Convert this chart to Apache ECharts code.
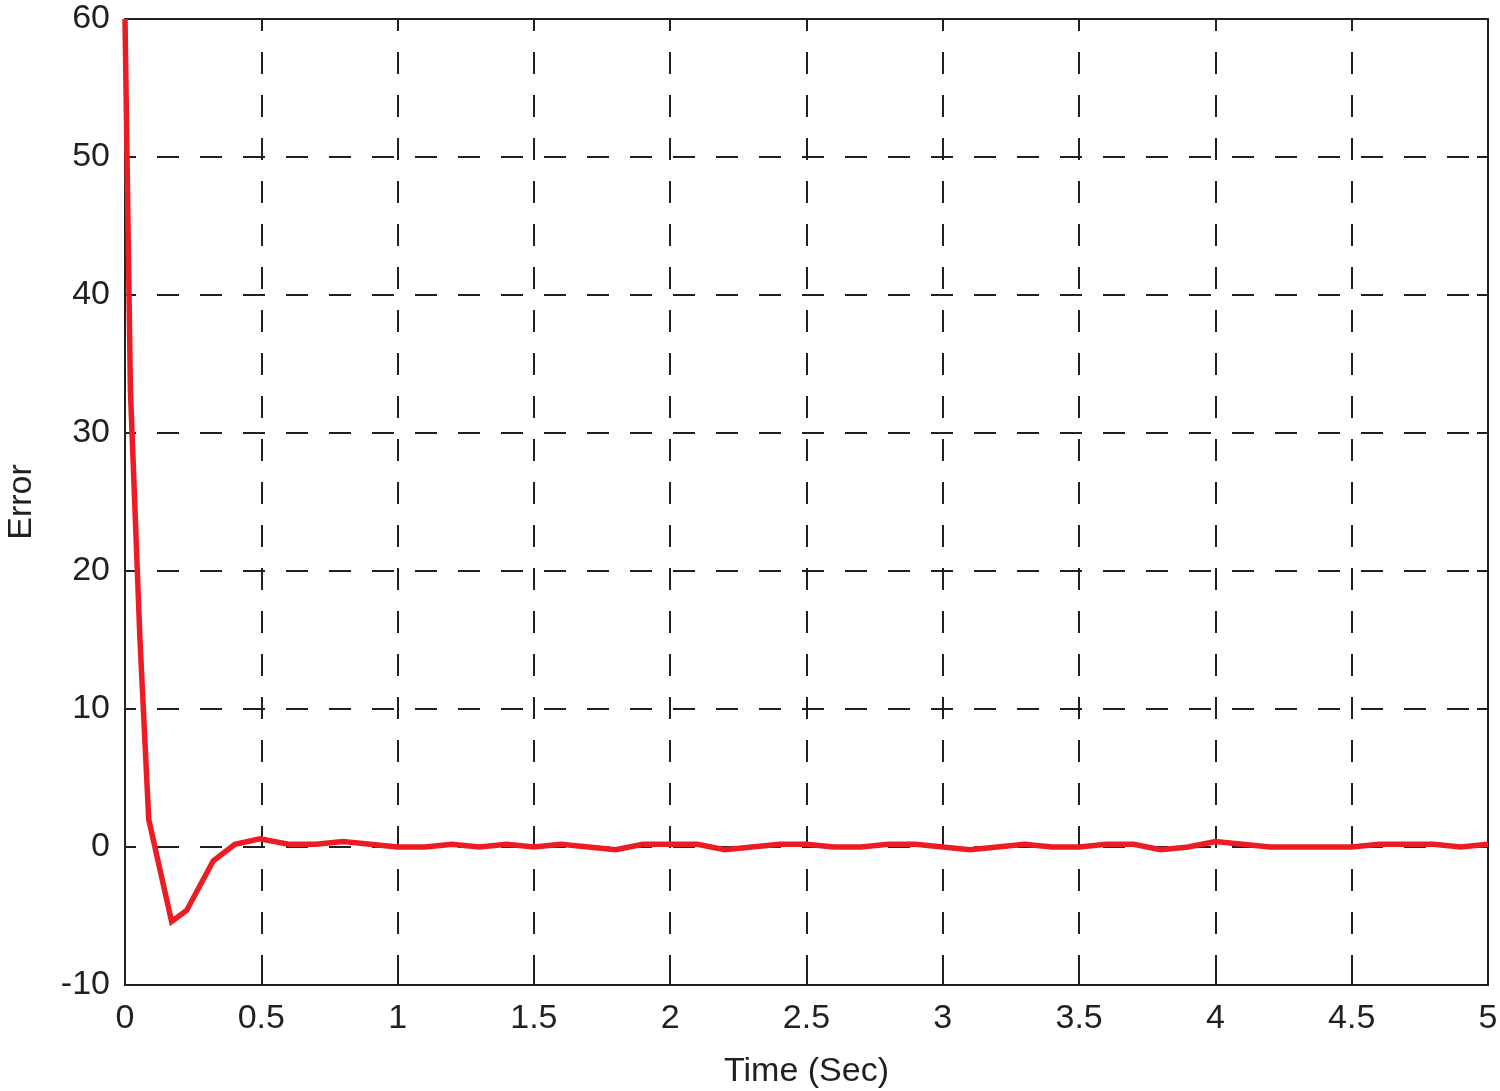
<!DOCTYPE html>
<html><head><meta charset="utf-8">
<script src="https://cdn.jsdelivr.net/npm/echarts@6/dist/echarts.min.js"></script>
<style>html,body{margin:0;padding:0;background:#fff}#c{width:1500px;height:1091px}</style>
</head><body><div id="c"></div>
<script>
const timeValues = [0, 0.02, 0.055, 0.087, 0.171, 0.226, 0.324, 0.403, 0.495,
  0.6, 0.7, 0.8, 0.9, 1.0, 1.1, 1.2, 1.3, 1.4, 1.5, 1.6, 1.7, 1.8, 1.9, 2.0,
  2.1, 2.2, 2.3, 2.4, 2.5, 2.6, 2.7, 2.8, 2.9, 3.0, 3.1, 3.2, 3.3, 3.4, 3.5,
  3.6, 3.7, 3.8, 3.9, 4.0, 4.1, 4.2, 4.3, 4.4, 4.5, 4.6, 4.7, 4.8, 4.9, 5.0];
const errorValues = [60, 33, 15, 2, -5.4, -4.6, -1, 0.2, 0.6,
  0.2, 0.2, 0.4, 0.2, 0, 0, 0.2, 0, 0.2, 0, 0.2, 0, -0.2, 0.2, 0.2,
  0.2, -0.2, 0, 0.2, 0.2, 0, 0, 0.2, 0.2, 0, -0.2, 0, 0.2, 0, 0,
  0.2, 0.2, -0.2, 0, 0.4, 0.2, 0, 0, 0, 0, 0.2, 0.2, 0.2, 0, 0.2];
const xAxisName = 'Time (Sec)';
const yAxisName = 'Error';

const chart = echarts.init(document.getElementById('c'), null, {renderer: 'canvas'});
const font = 'Liberation Sans, Arial, Helvetica, sans-serif';
const lbl = {color: '#231f20', fontSize: 34, fontFamily: font};
const ink = '#231f20';
chart.setOption({
  animation: false,
  backgroundColor: '#fff',
  grid: {left: 125, right: 12, top: 19, bottom: 106, show: false, containLabel: false, outerBoundsMode: 'none'},
  xAxis: [{
    type: 'value', min: 0, max: 5, interval: 0.5,
    name: xAxisName, nameLocation: 'middle', nameGap: 70,
    nameTextStyle: lbl,
    axisLine: {show: true, onZero: false, lineStyle: {color: ink, width: 2}},
    axisTick: {show: true, inside: true, length: 11, lineStyle: {color: ink, width: 2}},
    axisLabel: Object.assign({margin: 17}, lbl),
    splitLine: {show: true, lineStyle: {type: [22, 21], dashOffset: 10, color: ink, width: 2}}
  }, {
    type: 'value', min: 0, max: 5, interval: 0.5, position: 'top',
    axisLine: {show: true, onZero: false, lineStyle: {color: ink, width: 2}},
    axisTick: {show: true, inside: true, length: 11, lineStyle: {color: ink, width: 2}},
    axisLabel: {show: false}, splitLine: {show: false}
  }],
  yAxis: [{
    type: 'value', min: -10, max: 60, interval: 10,
    name: yAxisName, nameLocation: 'middle', nameGap: 86,
    nameTextStyle: lbl,
    axisLine: {show: true, onZero: false, lineStyle: {color: ink, width: 2}},
    axisTick: {show: true, inside: true, length: 11, lineStyle: {color: ink, width: 2}},
    axisLabel: Object.assign({margin: 15}, lbl),
    splitLine: {show: true, lineStyle: {type: [22, 21], dashOffset: 11, color: ink, width: 2}}
  }, {
    type: 'value', min: -10, max: 60, interval: 10, position: 'right',
    axisLine: {show: true, onZero: false, lineStyle: {color: ink, width: 2}},
    axisTick: {show: true, inside: true, length: 11, lineStyle: {color: ink, width: 2}},
    axisLabel: {show: false}, splitLine: {show: false}
  }],
  series: [{
    type: 'line',
    data: timeValues.map((t, i) => [t, errorValues[i]]),
    showSymbol: false,
    clip: true,
    lineStyle: {color: '#ed1c24', width: 5.5, join: 'miter'},
    z: 5
  }]
});
</script></body></html>
